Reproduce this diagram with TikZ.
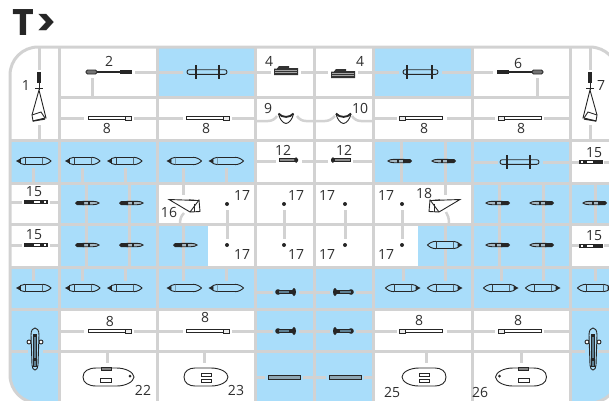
\documentclass[tikz,border=0pt]{standalone}
\usepackage{fontspec}
\setsansfont{Open Sans}
\newfontfamily\markfont{Poppins}
\usetikzlibrary{positioning}
\definecolor{sprueGray}{HTML}{D2D2D2}
\definecolor{cellBlue}{HTML}{A9DDFA}
\definecolor{partInk}{HTML}{262626}
\definecolor{shaftBlue}{HTML}{5E8093}
\definecolor{labelInk}{HTML}{2E2E2E}

\newcommand{\crossrod}[5]{% left end, right end, bar, bar, y
  \draw[part, fill=cellBlue, rounded corners=2.2pt] (#1,#5-2.3) rectangle (#2,#5+2.3);
  \draw[part, line width=1.3pt] (#3,#5-7) -- (#3,#5+7);
  \draw[part, line width=1.3pt] (#4,#5-7) -- (#4,#5+7);
}

\begin{document}
\begin{tikzpicture}[
    x=1pt, y=-1pt,
    font=\sffamily\fontsize{14}{14}\selectfont,
    rail/.style={draw=sprueGray, line width=3pt},
    gate/.style={draw=sprueGray, line width=3pt},
    part/.style={draw=partInk, line width=0.9pt},
    num/.style={inner sep=0pt, text=labelInk},
    pics/pod/.style={code={
      \draw[part, fill=cellBlue] (-8.5,-3.7) rectangle (9,3.7);
      \draw[part, fill=cellBlue] (9,-3.7) .. controls (13,-3.7) and (16,-1.5) .. (17.5,0) .. controls (16,1.5) and (13,3.7) .. (9,3.7);
      \draw[part, fill=cellBlue] (-8.5,-3.7) -- (-13,-2.5) -- (-13,2.5) -- (-8.5,3.7);
      \fill[partInk] (-17.5,0) -- (-13,-2.5) -- (-13,2.5) -- cycle;
    }},
    pics/rocket/.style={code={
      \draw[part, fill=shaftBlue!55] (-4,-1.7) -- (6,-1.7) .. controls (9,-1.7) and (11,-1) .. (12,0) .. controls (11,1) and (9,1.7) .. (6,1.7) -- (-4,1.7) -- cycle;
      \fill[partInk] (-12,0) -- (-10,-2) -- (-3,-2) -- (-3,2) -- (-10,2) -- cycle;
      \fill[partInk] (1,-2.2) rectangle (2.6,2.2);
    }},
    pics/peg/.style={code={
      \draw[part, fill=white, line width=1.1pt] (-11,-1.6) rectangle (11,1.6);
      \fill[partInk] (-11,-1.6) rectangle (-2,1.6);
      \fill[partInk] (4,-1.6) rectangle (8,1.6);
    }},
    pics/screw/.style={code={
      \draw[part, fill=black!45] (-9,-1.5) rectangle (7,1.5);
      \fill[partInk] (6,0) -- (8,-3) -- (10,-1) -- (10,1) -- (8,3) -- cycle;
    }},
    pics/strut/.style={code={
      \draw[part, fill=white, line width=1.2pt] (-21.5,-1.5) rectangle (15.5,1.5);
      \draw[draw=partInk, line width=0.6pt, fill=sprueGray!40] (15.5,-2) rectangle (21.5,2);
    }},
    pics/handle/.style={code={
      \draw[part, line width=1.1pt] (-13,0) -- (13,0);
      \draw[part, fill=black!55, rounded corners=1.5pt] (-23,-2) rectangle (-12,2);
      \fill[partInk] (11,-2) rectangle (23,2);
    }},
    pics/sling/.style={code={
      \fill[partInk] (-1.7,-25) rectangle (1.7,-14);
      \draw[part] (0,-14) -- (0,-7);
      \draw[part] (0,-7) -- (-7,18) -- (-6,24) -- (6,21) -- (7,21) -- cycle;
      \draw[part] (-7,18) -- (2,15) -- (6,21);
      \draw[part, line width=1.3pt] (-6,24) -- (6,22);
      \draw[part] (-4,-9) -- (4,-9);
    }},
    pics/block/.style={code={
      \fill[black!80] (-12,-2) -- (-9,-2) -- (-7,-4.5) -- (3,-4.5) -- (3,-2.5) -- (12,-2.5) -- (12,4.5) -- (-12,4.5) -- cycle;
      \draw[black!35, line width=0.5pt] (-11,0) -- (11,0);
      \draw[black!35, line width=0.5pt] (-11,2) -- (11,2);
    }},
    pics/shield/.style={code={
      \draw[part] (-7.5,-3) .. controls (-6,3) and (-3,6) .. (0,6.5) .. controls (3,6) and (6,3) .. (7.5,-3);
      \draw[part, line width=1.9pt] (-7.5,-3.5) .. controls (-4,1) and (4,1) .. (7.5,-3.5);
    }},
    pics/wedge/.style={code={
      \draw[part] (0,-5.5) -- (1,6) -- (-9,6.5) -- (-30,-6) -- (-1,-5) -- cycle;
      \draw[part] (-9,6.5) -- (0,-5.5);
      \draw[part] (-4.5,-2) -- (-4.5,6);
      \draw[part, line width=1.2pt] (-10,-5.5) -- (-5,-5.2);
    }},
    pics/knob/.style={code={
      \fill[partInk] (-8,0) circle (2.8);
      \draw[part, fill=shaftBlue] (-8,-1.8) rectangle (7,1.8);
      \fill[partInk] (3,-1.8) rectangle (7,1.8);
      \fill[partInk] (8,0) ellipse (2 and 4);
    }},
    pics/flatbar/.style={code={
      \draw[part, fill=shaftBlue!70, line width=1pt] (-16,-2) rectangle (16,2);
    }},
    pics/hullwide/.style={code={
      \draw[part] (-25.5,0) .. controls (-25.5,-6) and (-20,-9) .. (-12,-9) -- (8,-9) .. controls (17,-9) and (25,-5) .. (25.5,0) .. controls (25,5) and (17,9) .. (8,9) -- (-12,9) .. controls (-20,9) and (-25.5,6) .. (-25.5,0) -- cycle;
      \draw[part, fill=black!50] (-7.5,-10) rectangle (2.5,-7);
      \draw[part, fill=white] (-8.5,1) rectangle (2.5,5);
      \fill[partInk] (21.5,-1) circle (1.5);
    }},
    pics/hullshort/.style={code={
      \draw[part] (-22,0) .. controls (-22,-6) and (-17,-9) .. (-11,-9) -- (5,-9) .. controls (14,-9) and (22,-5) .. (22,0) .. controls (22,5) and (14,9) .. (5,9) -- (-11,9) .. controls (-17,9) and (-22,6) .. (-22,0) -- cycle;
      \draw[part, fill=white] (-5,-4) rectangle (5,-1);
      \draw[part, fill=white] (-5,2) rectangle (5,5);
    }},
    pics/tender/.style={code={
      \draw[part, fill=white] (-6,-7) circle (2);
      \draw[part, fill=white] (6,-7) circle (2);
      \draw[part, fill=cellBlue] (-4,-14) .. controls (-4,-19) and (-2,-21) .. (0,-21) .. controls (2,-21) and (4,-19) .. (4,-14) -- (3,16) .. controls (3,19) and (1.5,21) .. (0,21) .. controls (-1.5,21) and (-3,19) .. (-3,16) -- cycle;
      \draw[part, fill=shaftBlue] (-1.8,-14) rectangle (1.8,17);
      \fill[partInk] (-2,-15) rectangle (2,-12);
      \fill[partInk] (-2,9) rectangle (2,12);
    }},
  ]

\useasboundingbox (0,0) rectangle (609,400);
\clip (0,0) rectangle (609,400);

% Title
\node[inner sep=0pt, text=partInk, anchor=base west, font=\markfont\bfseries\fontsize{37}{37}\selectfont] (mark) at (12,35) {T\kern2pt>};

% Blue cells and rails, all inside the frame
\begin{scope}
  \clip[rounded corners=28pt] (10,47) rectangle (618,403);
  \fill[cellBlue] (157,47) rectangle (255,97);
  \fill[cellBlue] (373,47) rectangle (472,97);
  \fill[cellBlue] (10,140) rectangle (255,183);
  \fill[cellBlue] (373,140) rectangle (570,183);
  \fill[cellBlue] (59,183) rectangle (157,224);
  \fill[cellBlue] (472,183) rectangle (618,224);
  \fill[cellBlue] (59,224) rectangle (208,267);
  \fill[cellBlue] (418,224) rectangle (570,267);
  \fill[cellBlue] (10,267) rectangle (618,309);
  \fill[cellBlue] (10,309) rectangle (59,403);
  \fill[cellBlue] (255,309) rectangle (373,403);
  \fill[cellBlue] (570,309) rectangle (618,403);

  \draw[rail] (59,47) -- (59,403);
  \draw[rail] (157,47) -- (157,403);
  \draw[rail] (255,47) -- (255,403);
  \draw[rail] (314,47) -- (314,403);
  \draw[rail] (373,47) -- (373,403);
  \draw[rail] (472,47) -- (472,403);
  \draw[rail] (570,47) -- (570,403);
  \draw[rail] (59,97) -- (570,97);
  \draw[rail] (10,140) -- (618,140);
  \draw[rail] (10,183) -- (618,183);
  \draw[rail] (10,224) -- (618,224);
  \draw[rail] (10,267) -- (618,267);
  \draw[rail] (10,309) -- (618,309);
  \draw[rail] (59,351) -- (570,351);
\end{scope}
\draw[rail, rounded corners=28pt] (10,47) rectangle (618,403);

% Gates, top rows
\draw[gate] (39,47) -- (39,70);
\draw[gate] (39,125) -- (39,140);
\draw[gate] (590,47) -- (590,70);
\draw[gate] (590,125) -- (590,140);
\draw[gate] (135,72) -- (183,72);
\draw[gate] (230,72) -- (271,72);
\draw[gate] (301,72) -- (328,72);
\draw[gate] (358,72) -- (399,72);
\draw[gate] (442,72) -- (493,72);
\draw[gate] (92,78) -- (92,97);
\draw[gate] (537,78) -- (537,97);
\draw[gate] (59,118) -- (84,118);
\draw[gate] (134,118) -- (183,118);
\draw[gate] (232,118) -- (255,118);
\draw[gate, line width=2.5pt] (255,121) -- (268,121) .. controls (272,121) and (275,119) .. (277,116);
\draw[gate, line width=2.5pt] (297,116) .. controls (299,119) and (302,121) .. (306,121) -- (325,121) .. controls (329,121) and (332,119) .. (335,116);
\draw[gate, line width=2.5pt] (352,116) .. controls (354,119) and (357,121) .. (361,121) -- (373,121);
\draw[gate] (373,118) -- (397,118);
\draw[gate] (447,118) -- (495,118);
\draw[gate] (544,118) -- (570,118);

% Gates, middle rows
\draw[gate] (33,168) -- (33,183);
\draw[gate] (82,168) -- (82,183);
\draw[gate] (125,168) -- (125,183);
\draw[gate] (183,168) -- (183,195);
\draw[gate] (226,168) -- (226,183);
\draw[gate] (401,140) -- (401,183);
\draw[gate] (445,140) -- (445,195);
\draw[gate] (255,161) -- (276,161);
\draw[gate] (302,161) -- (328,161);
\draw[gate] (353,161) -- (373,161);
\draw[gate] (472,162) -- (498,162);
\draw[gate] (543,162) -- (580,162);
\draw[gate] (604,162) -- (609,162);
\draw[gate] (86,183) -- (86,267);
\draw[gate] (129,183) -- (129,267);
\draw[gate] (499,183) -- (499,267);
\draw[gate] (543,183) -- (543,267);
\draw[gate] (595,183) -- (595,224);
\draw[gate] (183,224) -- (183,267);
\draw[gate] (445,224) -- (445,267);
\draw[gate] (10,202) -- (22,202);
\draw[gate] (50,202) -- (59,202);
\draw[gate] (10,245) -- (22,245);
\draw[gate] (50,245) -- (59,245);
\draw[gate] (570,245) -- (579,245);
\draw[gate] (604,245) -- (609,245);
\draw[gate] (227,210) -- (227,239);
\draw[gate] (284,210) -- (284,239);
\draw[gate] (345,210) -- (345,239);
\draw[gate] (402,210) -- (402,239);
\draw[gate, line width=2.5pt] (180,224) .. controls (180,219) and (181,216) .. (184,213);
\draw[gate, line width=2.5pt] (449,224) .. controls (449,218) and (448,215) .. (446,212);

% Gates, bottom rows
\draw[gate] (33,267) -- (33,281);
\draw[gate] (82,267) -- (82,281);
\draw[gate] (125,267) -- (125,281);
\draw[gate] (183,267) -- (183,281);
\draw[gate] (226,267) -- (226,281);
\draw[gate] (403,267) -- (403,281);
\draw[gate] (445,267) -- (445,281);
\draw[gate] (501,267) -- (501,281);
\draw[gate] (543,267) -- (543,281);
\draw[gate] (595,267) -- (595,281);
\draw[gate] (255,292) -- (273,292);
\draw[gate] (299,292) -- (330,292);
\draw[gate] (356,292) -- (373,292);
\draw[gate] (59,331) -- (84,331);
\draw[gate] (134,331) -- (183,331);
\draw[gate] (232,331) -- (273,331);
\draw[gate] (299,331) -- (330,331);
\draw[gate] (356,331) -- (397,331);
\draw[gate] (447,331) -- (495,331);
\draw[gate] (544,331) -- (570,331);
\draw[gate] (10,351) -- (28,351);
\draw[gate] (43,351) -- (59,351);
\draw[gate] (570,351) -- (585,351);
\draw[gate] (598,351) -- (609,351);
\draw[gate] (255,377) -- (265,377);
\draw[gate] (303,377) -- (326,377);
\draw[gate] (364,377) -- (373,377);
\draw[gate] (107,353) -- (107,363);
\draw[gate] (204,353) -- (204,363);
\draw[gate] (426,353) -- (426,363);
\draw[gate] (521,353) -- (521,363);

% Parts, rows 1 and 2
\pic at (39,97) {sling};
\pic[xscale=-1] at (590,97) {sling};
\pic at (109,72) {handle};
\pic[xscale=-1] at (520,72) {handle};
\crossrod{187}{227}{196}{219}{72}
\crossrod{403}{438}{407}{432}{72}
\pic at (286,70.5) {block};
\pic at (343,73.5) {block};
\pic at (110,118) {strut};
\pic at (208,118) {strut};
\pic[xscale=-1] at (421,118) {strut};
\pic[xscale=-1] at (520,118) {strut};
\pic at (286,117) {shield};
\pic at (343.5,117) {shield};

% Parts, rows 3 to 5
\pic at (33.5,161) {pod};
\pic at (82.5,161) {pod};
\pic at (124.5,161) {pod};
\pic at (184,161) {pod};
\pic at (226,161) {pod};
\pic at (288,160) {screw};
\pic[xscale=-1] at (341,160) {screw};
\pic[xscale=-1] at (400,161) {rocket};
\pic[xscale=-1] at (444,161) {rocket};
\crossrod{500}{539}{507}{530}{162}
\pic[xscale=-1] at (591,162) {peg};
\pic at (36,202) {peg};
\pic at (87,203) {rocket};
\pic at (131,203) {rocket};
\pic at (199,205.5) {wedge};
\pic[xscale=-1] at (430,205.5) {wedge};
\fill[partInk] (227,204) circle (2);
\fill[partInk] (284,204) circle (2);
\fill[partInk] (345,204) circle (2);
\fill[partInk] (402,204) circle (2);
\pic[xscale=-1] at (498,203) {rocket};
\pic[xscale=-1] at (542,203) {rocket};
\pic[xscale=-1] at (595,203) {rocket};
\pic at (36,245) {peg};
\pic at (87,245) {rocket};
\pic at (131,245) {rocket};
\pic at (185,245) {rocket};
\fill[partInk] (227,245) circle (2);
\fill[partInk] (284,245) circle (2);
\fill[partInk] (345,245) circle (2);
\fill[partInk] (402,245) circle (2);
\pic[xscale=-1] at (445,245) {pod};
\pic[xscale=-1] at (498,245) {rocket};
\pic[xscale=-1] at (542,245) {rocket};
\pic[xscale=-1] at (591,246) {peg};

% Parts, rows 6 to 8
\pic at (33.5,288) {pod};
\pic at (82.5,288) {pod};
\pic at (124.5,288) {pod};
\pic at (184,288) {pod};
\pic at (226,288) {pod};
\pic at (286,292) {knob};
\pic[xscale=-1] at (343,292) {knob};
\pic[xscale=-1] at (403,288) {pod};
\pic[xscale=-1] at (445,288) {pod};
\pic[xscale=-1] at (501,288) {pod};
\pic[xscale=-1] at (543,288) {pod};
\pic[xscale=-1] at (595,288) {pod};
\pic at (35,349) {tender};
\pic at (593,349) {tender};
\pic at (110,331) {strut};
\pic at (208,331) {strut};
\pic at (286,331) {knob};
\pic[xscale=-1] at (343,331) {knob};
\pic[xscale=-1] at (421,331) {strut};
\pic[xscale=-1] at (520,331) {strut};
\pic at (108.5,377) {hullwide};
\pic at (206,377) {hullshort};
\pic at (284,377) {flatbar};
\pic at (345,377) {flatbar};
\pic[xscale=-1] at (424,377) {hullshort};
\pic[xscale=-1] at (521,377) {hullwide};

% Numbers
\node[num] (n1) at (26,85) {1};
\node[num] (n2) at (109,61) {2};
\node[num] (n4a) at (269,61) {4};
\node[num] (n4b) at (360,61) {4};
\node[num] (n6) at (518,63) {6};
\node[num] (n7) at (601,85) {7};
\node[num] (n9) at (268,108) {9};
\node[num] (n10) at (360,108) {10};
\node[num] (n8a) at (107,128) {8};
\node[num] (n8b) at (206,128) {8};
\node[num] (n8c) at (424,128) {8};
\node[num] (n8d) at (521,128) {8};
\node[num] (n12a) at (283,150) {12};
\node[num] (n12b) at (344,150) {12};
\node[num] (n15a) at (594,153) {15};
\node[num] (n15b) at (34,192) {15};
\node[num] (n15c) at (34,235) {15};
\node[num] (n15d) at (594,236) {15};
\node[num] (n16) at (169,212) {16};
\node[num] (n18) at (424,193) {18};
\node[num] (n17a) at (242,195) {17};
\node[num] (n17b) at (296,195) {17};
\node[num] (n17c) at (327,195) {17};
\node[num] (n17d) at (386,195) {17};
\node[num] (n17e) at (242,254) {17};
\node[num] (n17f) at (296,254) {17};
\node[num] (n17g) at (327,254) {17};
\node[num] (n17h) at (386,254) {17};
\node[num] (n8e) at (110,321) {8};
\node[num] (n8f) at (205,317) {8};
\node[num] (n8g) at (419,320) {8};
\node[num] (n8h) at (518,320) {8};
\node[num] (n22) at (143,390) {22};
\node[num] (n23) at (236,390) {23};
\node[num] (n25) at (392,392) {25};
\node[num] (n26) at (480,392) {26};

\end{tikzpicture}
\end{document}
